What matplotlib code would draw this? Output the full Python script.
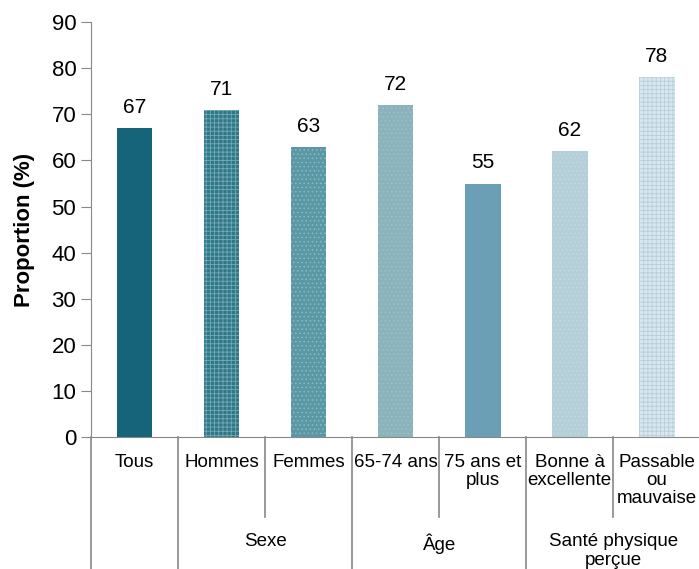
import matplotlib.pyplot as plt
import numpy as np

plt.rcParams['font.family'] = ['Liberation Sans', 'DejaVu Sans']
plt.rcParams['hatch.linewidth'] = 0.6

# donnees
categories = ["Tous", "Hommes", "Femmes", "65-74 ans", "75 ans et\nplus",
              "Bonne à\nexcellente", "Passable\nou\nmauvaise"]
valeurs = [67, 71, 63, 72, 55, 62, 78]
groupes = ["", "Sexe", "Âge", "Santé physique\nperçue"]
groupe_debut = [0, 1, 3, 5]  # premier indice de chaque groupe
groupe_fin = [0, 2, 4, 6]

couleurs = ['#16647a', '#2f7888', '#5b98a5', '#8ab3bb', '#6a9fb5', '#b5cfd9', '#d9e7ee']
hachures = ['', '++++', '....', '....', '', '....', '++++']
couleurs_hachure = ['#16647a', '#76a9b5', '#8cb8c2', '#9dc0c7', '#6a9fb5', '#c4d8e0', '#b5cfde']

fig = plt.figure(figsize=(6.99, 5.69), dpi=100)
ax = fig.add_axes([0.130, 0.232, 0.872, 0.729])

x = np.arange(len(valeurs))
for i in x:
    ax.bar(i, valeurs[i], width=0.41, color=couleurs[i], hatch=hachures[i],
           edgecolor=couleurs_hachure[i], linewidth=0)
    ax.annotate(str(valeurs[i]), (i, valeurs[i]), xytext=(0, 8), textcoords='offset points',
                ha='center', va='bottom', fontsize=15)

ax.set_xlim(-0.5, 6.5)
ax.set_ylim(0, 90)
ax.set_yticks(np.arange(0, 91, 10))
ax.tick_params(axis='y', labelsize=16, length=7, color='#888888')
ax.set_xticks([])
ax.spines['top'].set_visible(False)
ax.spines['right'].set_visible(False)
ax.spines['left'].set_color('#888888')
ax.spines['bottom'].set_color('#888888')
ax.set_ylabel("Proportion (%)", fontsize=16, fontweight='bold', labelpad=12)

# etiquettes des categories en dessous de l'axe
trans = ax.get_xaxis_transform()
for i, c in enumerate(categories):
    ax.text(i, -0.04, c, transform=trans, ha='center', va='top', fontsize=13.5,
            linespacing=1.1, clip_on=False)

for g, d, f in zip(groupes, groupe_debut, groupe_fin):
    ax.text((d + f) / 2, -0.232, g, transform=trans, ha='center', va='top', fontsize=13.5,
            linespacing=1.1, clip_on=False)

# lignes de separation
for b in range(len(categories) + 1):
    bord = b - 0.5
    if b in groupe_debut or b == len(categories):
        bas = -0.5
    else:
        bas = -0.193
    ax.plot([bord, bord], [0, bas], transform=trans, color='#888888', lw=1.2, clip_on=False)

fig.savefig("out.png", dpi=100)
